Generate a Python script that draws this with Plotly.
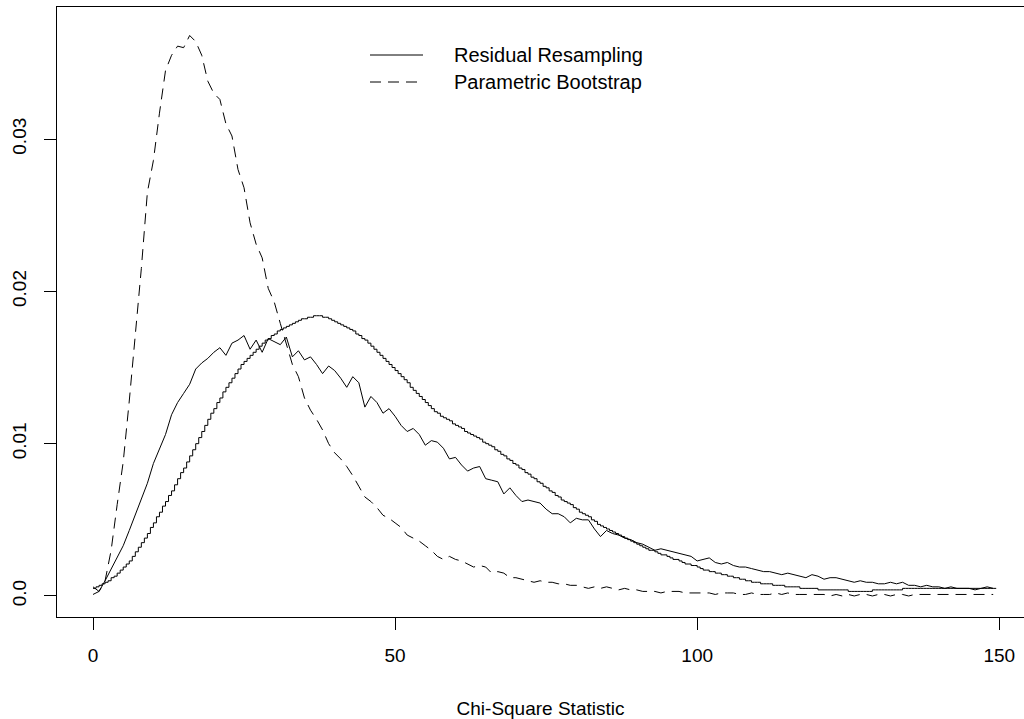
import plotly.graph_objects as go

# ---- data ----
chisq = list(range(150))                       # grid of the two simulated curves
chisq_fine = [i * 0.5 for i in range(300)]     # finer grid of the step curve

theoretical = [
    0.0005, 0.0006, 0.0007, 0.0008, 0.0009, 0.0010, 0.0012, 0.0013, 0.0015, 0.0017,
    0.0019, 0.0021, 0.0023, 0.0026, 0.0029, 0.0032, 0.0035, 0.0038, 0.0041, 0.0045,
    0.0048, 0.0052, 0.0055, 0.0059, 0.0062, 0.0066, 0.0069, 0.0073, 0.0077, 0.0081,
    0.0084, 0.0088, 0.0092, 0.0096, 0.0100, 0.0104, 0.0108, 0.0112, 0.0116, 0.0120,
    0.0123, 0.0127, 0.0130, 0.0134, 0.0137, 0.0140, 0.0143, 0.0146, 0.0149, 0.0152,
    0.0154, 0.0156, 0.0158, 0.0160, 0.0162, 0.0164, 0.0166, 0.0168, 0.0169, 0.0171,
    0.0172, 0.0174, 0.0175, 0.0176, 0.0177, 0.0178, 0.0179, 0.0180, 0.0181, 0.0182,
    0.0182, 0.0183, 0.0183, 0.0184, 0.0184, 0.0184, 0.0183, 0.0183, 0.0182, 0.0181,
    0.0180, 0.0179, 0.0178, 0.0177, 0.0176, 0.0175, 0.0174, 0.0172, 0.0171, 0.0169,
    0.0168, 0.0166, 0.0164, 0.0162, 0.0160, 0.0158, 0.0156, 0.0154, 0.0152, 0.0150,
    0.0148, 0.0146, 0.0144, 0.0142, 0.0140, 0.0137, 0.0135, 0.0133, 0.0131, 0.0129,
    0.0127, 0.0125, 0.0123, 0.0121, 0.0120, 0.0118, 0.0117, 0.0116, 0.0115, 0.0113,
    0.0112, 0.0111, 0.0110, 0.0108, 0.0107, 0.0106, 0.0105, 0.0104, 0.0103, 0.0101,
    0.0100, 0.0099, 0.0098, 0.0096, 0.0095, 0.0093, 0.0092, 0.0090, 0.0089, 0.0087,
    0.0086, 0.0084, 0.0083, 0.0081, 0.0080, 0.0078, 0.0077, 0.0075, 0.0074, 0.0072,
    0.0071, 0.0069, 0.0068, 0.0066, 0.0065, 0.0063, 0.0062, 0.0061, 0.0060, 0.0058,
    0.0057, 0.0055, 0.0054, 0.0053, 0.0052, 0.0050, 0.0049, 0.0047, 0.0046, 0.0045,
    0.0044, 0.0043, 0.0042, 0.0041, 0.0040, 0.0039, 0.0038, 0.0037, 0.0036, 0.0035,
    0.0034, 0.0033, 0.0032, 0.0031, 0.0030, 0.0030, 0.0029, 0.0028, 0.0027, 0.0027,
    0.0026, 0.0025, 0.0024, 0.0024, 0.0023, 0.0022, 0.0021, 0.0021, 0.0020, 0.0020,
    0.0019, 0.0018, 0.0017, 0.0017, 0.0016, 0.0016, 0.0015, 0.0015, 0.0014, 0.0014,
    0.0013, 0.0013, 0.0012, 0.0012, 0.0011, 0.0011, 0.0010, 0.0010, 0.0009, 0.0009,
    0.0009, 0.0008, 0.0008, 0.0008, 0.0008, 0.0007, 0.0007, 0.0007, 0.0007, 0.0006,
    0.0006, 0.0006, 0.0006, 0.0006, 0.0005, 0.0005, 0.0005, 0.0005, 0.0005, 0.0005,
    0.0004, 0.0004, 0.0004, 0.0004, 0.0004, 0.0004, 0.0004, 0.0004, 0.0004, 0.0004,
    0.0003, 0.0003, 0.0003, 0.0003, 0.0003, 0.0003, 0.0003, 0.0003, 0.0004, 0.0004,
    0.0004, 0.0004, 0.0004, 0.0004, 0.0004, 0.0004, 0.0004, 0.0004, 0.0005, 0.0005,
    0.0005, 0.0005, 0.0005, 0.0005, 0.0005, 0.0005, 0.0005, 0.0005, 0.0005, 0.0005,
    0.0005, 0.0005, 0.0005, 0.0005, 0.0005, 0.0005, 0.0005, 0.0005, 0.0005, 0.0005,
    0.0005, 0.0005, 0.0005, 0.0005, 0.0005, 0.0005, 0.0005, 0.0005, 0.0005, 0.0005,
]

residual_resampling = [
    0.0006, 0.0003, 0.0010, 0.0018, 0.0025, 0.0033, 0.0043, 0.0053, 0.0063, 0.0074,
    0.0087, 0.0097, 0.0106, 0.0119, 0.0127, 0.0133, 0.0139, 0.0149, 0.0153, 0.0156,
    0.0160, 0.0163, 0.0158, 0.0166, 0.0168, 0.0171, 0.0162, 0.0168, 0.0160, 0.0169,
    0.0167, 0.0165, 0.0170, 0.0157, 0.0161, 0.0155, 0.0157, 0.0152, 0.0146, 0.0151,
    0.0148, 0.0143, 0.0137, 0.0144, 0.0140, 0.0124, 0.0131, 0.0127, 0.0120, 0.0123,
    0.0118, 0.0112, 0.0108, 0.0110, 0.0106, 0.0099, 0.0102, 0.0101, 0.0097, 0.0090,
    0.0091, 0.0086, 0.0082, 0.0084, 0.0085, 0.0077, 0.0076, 0.0075, 0.0067, 0.0071,
    0.0066, 0.0062, 0.0063, 0.0062, 0.0061, 0.0057, 0.0054, 0.0054, 0.0052, 0.0048,
    0.0051, 0.0050, 0.0050, 0.0044, 0.0039, 0.0043, 0.0041, 0.0040, 0.0038, 0.0037,
    0.0035, 0.0034, 0.0032, 0.0030, 0.0031, 0.0030, 0.0029, 0.0028, 0.0027, 0.0026,
    0.0023, 0.0024, 0.0025, 0.0022, 0.0021, 0.0022, 0.0020, 0.0019, 0.0019, 0.0018,
    0.0017, 0.0016, 0.0016, 0.0015, 0.0014, 0.0015, 0.0014, 0.0013, 0.0012, 0.0014,
    0.0013, 0.0011, 0.0012, 0.0012, 0.0011, 0.0010, 0.0009, 0.0010, 0.0009, 0.0009,
    0.0008, 0.0008, 0.0009, 0.0008, 0.0009, 0.0007, 0.0007, 0.0006, 0.0007, 0.0006,
    0.0006, 0.0005, 0.0006, 0.0005, 0.0005, 0.0005, 0.0004, 0.0005, 0.0006, 0.0005,
]

parametric_bootstrap = [
    0.0001, 0.0003, 0.0010, 0.0030, 0.0060, 0.0088, 0.0128, 0.0170, 0.0215, 0.0265,
    0.0286, 0.0317, 0.0345, 0.0355, 0.0361, 0.0360, 0.0368, 0.0364, 0.0355, 0.0338,
    0.0330, 0.0326, 0.0310, 0.0302, 0.0280, 0.0268, 0.0245, 0.0231, 0.0222, 0.0202,
    0.0193, 0.0179, 0.0165, 0.0152, 0.0144, 0.0130, 0.0122, 0.0116, 0.0109, 0.0100,
    0.0094, 0.0090, 0.0085, 0.0079, 0.0072, 0.0065, 0.0062, 0.0058, 0.0053, 0.0051,
    0.0048, 0.0045, 0.0040, 0.0038, 0.0036, 0.0033, 0.0030, 0.0026, 0.0024, 0.0026,
    0.0024, 0.0023, 0.0021, 0.0019, 0.0020, 0.0019, 0.0015, 0.0016, 0.0015, 0.0012,
    0.0012, 0.0011, 0.0010, 0.0009, 0.0010, 0.0009, 0.0009, 0.0008, 0.0008, 0.0007,
    0.0007, 0.0006, 0.0005, 0.0006, 0.0005, 0.0006, 0.0005, 0.0004, 0.0005, 0.0004,
    0.0004, 0.0003, 0.0003, 0.0003, 0.0002, 0.0003, 0.0003, 0.0003, 0.0002, 0.0002,
    0.0002, 0.0002, 0.0002, 0.0001, 0.0002, 0.0002, 0.0002, 0.0001, 0.0001, 0.0002,
    0.0001, 0.0001, 0.0001, 0.0002, 0.0001, 0.0002, 0.0001, 0.0001, 0.0001, 0.0001,
    0.0001, 0.0001, 0.0000, 0.0001, 0.0000, 0.0001, 0.0000, 0.0001, 0.0001, 0.0000,
    0.0001, 0.0001, 0.0000, 0.0001, 0.0001, 0.0000, 0.0001, 0.0001, 0.0001, 0.0001,
    0.0001, 0.0001, 0.0001, 0.0001, 0.0001, 0.0001, 0.0001, 0.0001, 0.0001, 0.0001,
]

x_ticks = [0, 50, 100, 150]
y_ticks = [0.0, 0.01, 0.02, 0.03]
y_tick_labels = ["0.0", "0.01", "0.02", "0.03"]
legend_labels = ["Residual Resampling", "Parametric Bootstrap"]
x_title = "Chi-Square Statistic"

# ---- styling ----
FONT = "Liberation Sans, Arial, Helvetica, sans-serif"
DASH = "11px,7px"
W, H = 1024, 719
ML, MR, MT, MB = 57, 0, 7, 102
X_RANGE = [-5.96, 154.1]
Y_RANGE = [-0.00138, 0.03867]

fig = go.Figure()
fig.add_trace(go.Scatter(x=chisq_fine, y=theoretical, mode="lines",
                         line=dict(color="black", width=1, shape="hv"),
                         showlegend=False, name="Theoretical"))
fig.add_trace(go.Scatter(x=chisq, y=residual_resampling, mode="lines",
                         line=dict(color="black", width=1),
                         showlegend=False, name=legend_labels[0]))
fig.add_trace(go.Scatter(x=chisq, y=parametric_bootstrap, mode="lines",
                         line=dict(color="black", width=1, dash=DASH),
                         showlegend=False, name=legend_labels[1]))

# manual legend (no box, like R's bty="n")
pw, ph = W - ML - MR, H - MT - MB
def px_x(p):
    return (p - ML) / pw
def px_y(p):
    return (H - MB - p) / ph

rows = [55, 82]
dashes = [None, DASH]
for lab, row, d in zip(legend_labels, rows, dashes):
    fig.add_shape(type="line", xref="paper", yref="paper",
                  x0=px_x(370), x1=px_x(423), y0=px_y(row), y1=px_y(row),
                  line=dict(color="black", width=1, dash=d))
    fig.add_annotation(xref="paper", yref="paper", x=px_x(452), y=px_y(row),
                       text=lab, showarrow=False, xanchor="left", yanchor="middle",
                       font=dict(family=FONT, size=20, color="black"))

fig.update_layout(
    width=W, height=H,
    margin=dict(l=ML, r=MR, t=MT, b=MB, autoexpand=False),
    paper_bgcolor="white", plot_bgcolor="white",
    font=dict(family=FONT, size=19, color="black"),
    showlegend=False,
)
fig.update_xaxes(
    range=X_RANGE, tickmode="array", tickvals=x_ticks, ticktext=[str(v) for v in x_ticks],
    showgrid=False, zeroline=False, showline=True, mirror=True, linecolor="black", linewidth=1,
    ticks="outside", ticklen=12, tickwidth=1, tickcolor="black", ticklabelstandoff=9,
    title=dict(text=x_title, standoff=36, font=dict(family=FONT, size=19)),
    automargin=False,
)
fig.update_yaxes(
    range=Y_RANGE, tickmode="array", tickvals=y_ticks, ticktext=y_tick_labels,
    showgrid=False, zeroline=False, showline=True, mirror=False, linecolor="black", linewidth=1,
    ticks="outside", ticklen=12, tickwidth=1, tickcolor="black", tickangle=-90,
    ticklabelstandoff=10, automargin=False,
)

fig.write_html("out.html")
